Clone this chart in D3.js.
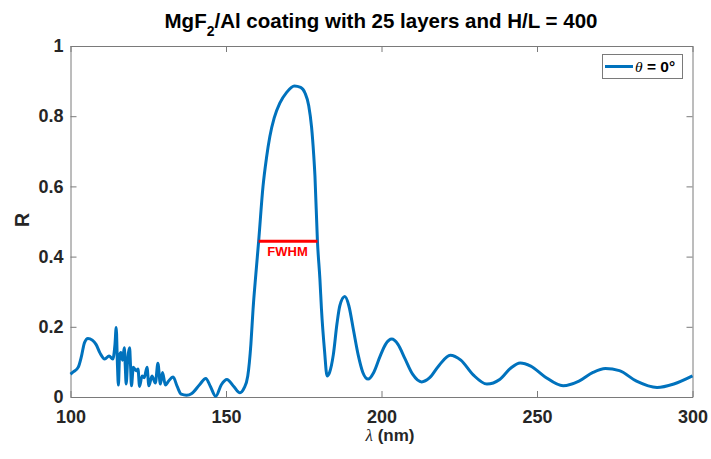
<!DOCTYPE html>
<html>
<head>
<meta charset="utf-8">
<script src="https://cdn.jsdelivr.net/npm/d3@7"></script>
<style>
  body { margin: 0; background: #fff; }
  svg { display: block; font-family: "Liberation Sans", Arial, Helvetica, sans-serif; }
</style>
</head>
<body>
<svg id="chart" width="711" height="459"></svg>
<script>
// ---- data ----
const lambda = [100, 101, 102.5, 103.5, 104.5, 105.6, 107, 108.2, 109.5, 111, 112.4, 113.6,
  114.3, 114.7, 115.1, 115.4, 115.8, 116.2, 116.7, 117.3, 117.6, 117.9, 118.4, 119, 119.3, 119.6,
  120.2, 121.1, 121.7, 122.2, 123, 123.7, 124.6, 125.2, 126.2, 127.3, 128.1, 128.9, 129.6, 130.5,
  131.5, 133, 134.3, 135.6, 137.3, 139, 141.5, 143.5, 145, 146.7, 148.5, 150.3, 152.5, 154.5,
  155.8, 157, 158, 158.7, 159.6, 160.5, 161.9, 163, 164.1, 165.5, 167.3, 169.5, 172, 174, 175.4,
  176.6, 177.5, 178.2, 178.6, 179.4, 180.2, 180.7, 181.7, 182.5, 183.3, 184.5, 185.7, 186.6, 188.2,
  189.5, 191, 192.5, 194, 195.7, 197.5, 199.5, 201.3, 203.3, 205.3, 207.5, 210, 212.9, 215.5,
  218.5, 222.1, 225.5, 229.5, 233.9, 238, 241.5, 244.6, 248, 252.5, 258.4, 263.5, 268, 272,
  276.5, 282, 288.6, 294, 300];
const reflectance = [0.065, 0.072, 0.085, 0.115, 0.155, 0.167, 0.162, 0.15, 0.125, 0.108, 0.117, 0.108,
  0.15, 0.198, 0.09, 0.034, 0.12, 0.127, 0.105, 0.14, 0.09, 0.037, 0.11, 0.14, 0.09, 0.032,
  0.085, 0.075, 0.08, 0.03, 0.06, 0.055, 0.085, 0.032, 0.06, 0.04, 0.096, 0.037, 0.07, 0.034,
  0.045, 0.057, 0.03, 0.008, 0.005, 0.01, 0.035, 0.053, 0.03, 0.002, 0.035, 0.05, 0.03, 0.012,
  0.025, 0.06, 0.15, 0.25, 0.35, 0.444, 0.6, 0.68, 0.742, 0.795, 0.837, 0.868, 0.886, 0.882, 0.866,
  0.83, 0.77, 0.69, 0.63, 0.444, 0.335, 0.25, 0.13, 0.06, 0.07, 0.12, 0.21, 0.26, 0.286,
  0.26, 0.19, 0.12, 0.07, 0.051, 0.07, 0.115, 0.15, 0.165, 0.15, 0.11, 0.065, 0.043, 0.055,
  0.09, 0.119, 0.105, 0.063, 0.037, 0.05, 0.082, 0.097, 0.088, 0.058, 0.032, 0.045, 0.07, 0.081,
  0.075, 0.045, 0.027, 0.037, 0.06];
const xTicks = [100, 150, 200, 250, 300];
const yTicks = [0, 0.2, 0.4, 0.6, 0.8, 1];
const fwhmLambda = [160.5, 179.4];
const fwhmR = 0.444;
const legendLabel = "θ = 0°";

// ---- layout ----
const svg = d3.select("#chart");
const mLeft = 70.5, mRight = 692.5, mTop = 46, mBottom = 397;
const x = d3.scaleLinear().domain([100, 300]).range([mLeft, mRight]);
const y = d3.scaleLinear().domain([0, 1]).range([mBottom, mTop]);
const axisColor = "#7a7a7a";
const textColor = "#262626";

// axes (ticks inward)
function styleAxis(g, hideLabels) {
  g.select(".domain").attr("stroke", axisColor).attr("stroke-width", 1);
  g.selectAll(".tick line").attr("stroke", axisColor).attr("stroke-width", 1);
  g.selectAll(".tick text").attr("fill", textColor).attr("font-size", 18).attr("font-weight", "bold")
    .attr("font-family", "Liberation Sans, Arial, sans-serif");
  if (hideLabels) g.selectAll(".tick text").remove();
}
svg.append("g").attr("transform", `translate(0,${mBottom})`)
  .call(d3.axisBottom(x).tickValues(xTicks).tickSizeInner(-6).tickSizeOuter(0).tickPadding(13.5).tickFormat(d3.format("d")))
  .call(g => styleAxis(g, false));
svg.append("g").attr("transform", `translate(0,${mTop})`)
  .call(d3.axisTop(x).tickValues(xTicks).tickSizeInner(-6).tickSizeOuter(0))
  .call(g => styleAxis(g, true));
svg.append("g").attr("transform", `translate(${mLeft},0)`)
  .call(d3.axisLeft(y).tickValues(yTicks).tickSizeInner(-6).tickSizeOuter(0).tickPadding(7).tickFormat(d => d === 0 || d === 1 ? String(d) : d3.format(".1f")(d)))
  .call(g => styleAxis(g, false));
svg.append("g").attr("transform", `translate(${mRight},0)`)
  .call(d3.axisRight(y).tickValues(yTicks).tickSizeInner(-6).tickSizeOuter(0))
  .call(g => styleAxis(g, true));

// data line
const data = lambda.map((l, i) => ({ l, r: reflectance[i] }));
svg.append("path").datum(data)
  .attr("fill", "none").attr("stroke", "#0072BD").attr("stroke-width", 3)
  .attr("stroke-linejoin", "round")
  .attr("d", d3.line().x(d => x(d.l)).y(d => y(d.r)).curve(d3.curveMonotoneX));

// FWHM marker
svg.append("line")
  .attr("x1", x(fwhmLambda[0])).attr("x2", x(fwhmLambda[1]))
  .attr("y1", y(fwhmR)).attr("y2", y(fwhmR))
  .attr("stroke", "#FF0000").attr("stroke-width", 3);
svg.append("text")
  .attr("x", (x(fwhmLambda[0]) + x(fwhmLambda[1])) / 2 - 0.5).attr("y", y(fwhmR) + 14.5)
  .attr("text-anchor", "middle").attr("fill", "#FF0000")
  .attr("font-size", 13).attr("font-weight", "bold").text("FWHM");

// title
const title = svg.append("text").attr("x", 381).attr("y", 28).attr("text-anchor", "middle")
  .attr("font-size", 20.5).attr("font-weight", "bold").attr("fill", "#000");
title.append("tspan").text("MgF");
title.append("tspan").attr("font-size", 14).attr("dy", 8).text("2");
title.append("tspan").attr("dy", -8).text("/Al coating with 25 layers and H/L = 400");

// axis labels
const xl = svg.append("text").attr("x", 390).attr("y", 441).attr("text-anchor", "middle")
  .attr("font-size", 17).attr("font-weight", "bold").attr("fill", textColor);
xl.append("tspan").attr("font-style", "italic").attr("font-weight", "normal").attr("font-family", "Liberation Serif, Times New Roman, serif").text("λ");
xl.append("tspan").text(" (nm)");
svg.append("text").attr("transform", "translate(29,220) rotate(-90)").attr("text-anchor", "middle")
  .attr("font-size", 19.5).attr("font-weight", "bold").attr("fill", textColor).text("R");

// legend
const lg = svg.append("g");
lg.append("rect").attr("x", 602.5).attr("y", 54.5).attr("width", 80).attr("height", 24)
  .attr("fill", "#fff").attr("stroke", axisColor).attr("stroke-width", 1);
lg.append("line").attr("x1", 605).attr("x2", 633).attr("y1", 66.5).attr("y2", 66.5)
  .attr("stroke", "#0072BD").attr("stroke-width", 3);
const lt = lg.append("text").attr("x", 635).attr("y", 72).attr("font-size", 15.5).attr("font-weight", "bold").attr("fill", "#000");
lt.append("tspan").attr("font-style", "italic").attr("font-weight", "normal").attr("font-family", "Liberation Serif, Times New Roman, serif").text(legendLabel.slice(0, 1));
lt.append("tspan").text(legendLabel.slice(1));
</script>
</body>
</html>
